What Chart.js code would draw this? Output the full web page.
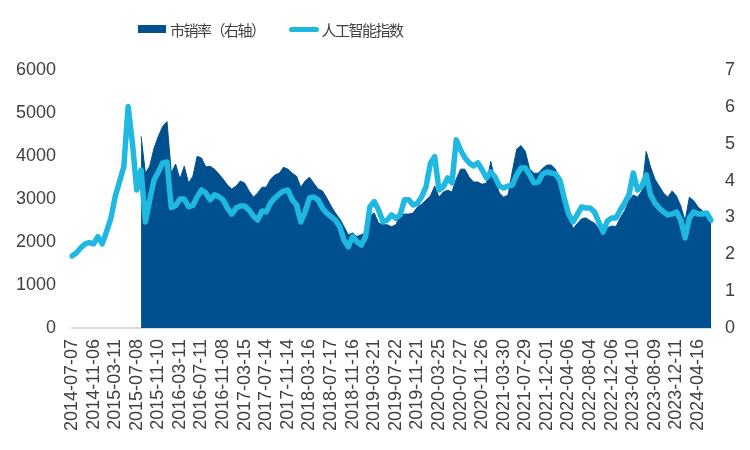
<!DOCTYPE html>
<html>
<head>
<meta charset="utf-8">
<script src="https://cdn.jsdelivr.net/npm/chart.js@4.4.1/dist/chart.umd.min.js"></script>
<style>
  html, body { margin: 0; padding: 0; background: #fff; }
  #wrap { position: relative; width: 750px; height: 450px; }
  #legend { position: absolute; left: 138px; top: 18px; height: 22px; display: flex; align-items: center;
            font-family: "Noto Sans CJK SC", sans-serif; font-size: 15px; letter-spacing: -1.5px; color: #404040; }
  #legend .sw-box { width: 28px; height: 8px; background: #00508F; margin-right: 4px; }
  #legend .sw-line { width: 30px; height: 5px; border-radius: 3px; background: #1FB8E0; margin-left: 24px; margin-right: 3px; }
</style>
</head>
<body>
<div id="wrap">
  <canvas id="chart" width="750" height="450"></canvas>
  <div id="legend">
    <span class="sw-box"></span><span id="lg0"></span>
    <span class="sw-line"></span><span id="lg1"></span>
  </div>
</div>
<script>
// x 轴刻度（每 5 个数据点一个标签）
const tickLabels = ['2014-07-07','2014-11-06','2015-03-11','2015-07-08','2015-11-10','2016-03-11','2016-07-11','2016-11-08',
  '2017-03-15','2017-07-14','2017-11-14','2018-03-16','2018-07-17','2018-11-16','2019-03-21','2019-07-22','2019-11-21',
  '2020-03-25','2020-07-27','2020-11-26','2021-03-30','2021-07-29','2021-12-01','2022-04-06','2022-08-04','2022-12-06',
  '2023-04-10','2023-08-09','2023-12-11','2024-04-16'];
const perTick = 5;

const seriesNames = ['市销率（右轴）', '人工智能指数'];

// 人工智能指数（左轴）
const aiIndex = [
  1675,1745,1860,1955,1985,1955,2125,1955,2240,2550,
  3055,3400,3750,5150,4295,3210,3675,2465,2980,3440,
  3630,3840,3860,2800,2850,3000,3000,2820,2850,3055,
  3210,3140,2980,3095,3055,2980,2790,2650,2790,2840,
  2840,2745,2605,2510,2720,2700,2910,3025,3115,3185,
  3210,2980,2860,2465,2700,3025,3045,2980,2790,2670,
  2590,2510,2355,2045,1890,2125,2005,1930,2125,2820,
  2940,2745,2475,2510,2630,2550,2630,2980,2980,2860,
  2900,3055,3285,3830,3985,3210,3285,3490,3375,4375,
  4140,3955,3840,3770,3840,3675,3490,3630,3510,3300,
  3255,3300,3325,3560,3720,3720,3560,3375,3395,3580,
  3630,3605,3580,3440,3025,2650,2465,2630,2815,2790,
  2790,2700,2465,2235,2490,2560,2560,2745,2910,3095,
  3605,3210,3300,3560,3095,2910,2790,2700,2630,2650,
  2700,2510,2095,2560,2700,2650,2650,2675,2510
];

// 市销率（右轴），2015-07 之前无数据
const psRatio = [
  null,null,null,null,null,null,null,null,null,null,
  null,null,null,null,null,null,5.2,4.2,4.39,4.88,
  5.2,5.47,5.6,4.2,4.45,4.04,4.39,3.93,4.12,4.66,
  4.61,4.37,4.39,4.31,4.18,4.04,3.88,3.77,3.85,3.99,
  3.93,3.72,3.55,3.66,3.82,3.82,4.04,4.15,4.2,4.36,
  4.31,4.2,4.12,3.82,3.99,4.09,3.93,3.77,3.72,3.53,
  3.31,3.12,2.96,2.75,2.53,2.58,2.48,2.53,2.58,3.04,
  3.12,2.85,2.8,2.8,2.75,2.8,3.07,3.09,3.09,3.12,
  3.28,3.36,3.47,3.58,3.85,3.55,3.69,3.74,3.69,4.04,
  4.31,4.31,4.09,3.96,3.96,3.9,3.93,4.52,3.99,3.66,
  3.55,3.61,4.26,4.85,4.95,4.79,4.31,4.2,4.2,4.33,
  4.42,4.42,4.31,3.93,3.58,3.18,2.69,2.83,2.96,2.99,
  2.91,2.85,2.69,2.48,2.72,2.77,2.75,2.99,3.18,3.45,
  3.61,3.55,3.72,4.79,4.37,4.04,3.85,3.66,3.55,3.72,
  3.58,3.31,2.91,3.55,3.45,3.28,3.18,3.09,3.01
];

const categories = aiIndex.map((_, i) => i % perTick === 0 ? (tickLabels[i / perTick] || '') : '');

const ink = '#404040';
const tickFont = { family: '"Liberation Sans", Arial, sans-serif', size: 18 };
const noGrid = { display: false, drawTicks: false };

document.getElementById('lg0').textContent = seriesNames[0];
document.getElementById('lg1').textContent = seriesNames[1];

new Chart(document.getElementById('chart'), {
  type: 'line',
  data: {
    labels: categories,
    datasets: [
      {
        label: seriesNames[0], data: psRatio, yAxisID: 'y1', order: 2,
        fill: 'origin', backgroundColor: '#00508F', borderColor: '#00508F', borderWidth: 1,
        pointRadius: 0, tension: 0,
      },
      {
        label: seriesNames[1], data: aiIndex, yAxisID: 'y', order: 1,
        fill: false, borderColor: '#1FB8E0', borderWidth: 5.5,
        borderJoinStyle: 'round', borderCapStyle: 'round',
        pointRadius: 0, tension: 0,
      },
    ],
  },
  options: {
    responsive: false, animation: false,
    layout: { padding: { top: 70, left: 0, right: 0, bottom: 0 } },
    plugins: { legend: { display: false }, tooltip: { enabled: false } },
    scales: {
      x: {
        grid: noGrid,
        border: { display: true, color: '#d9d9d9', width: 2 },
        ticks: { autoSkip: false, minRotation: 90, maxRotation: 90, padding: 11, color: ink, font: tickFont },
        afterFit: (s) => { s.height = 122; },
      },
      y: {
        position: 'left', min: 0, max: 6000,
        grid: noGrid, border: { display: false },
        ticks: { stepSize: 1000, padding: 16, color: ink, font: tickFont, callback: (v) => String(v) },
        afterFit: (s) => { s.width = 72; },
      },
      y1: {
        position: 'right', min: 0, max: 7,
        grid: noGrid, border: { display: false },
        ticks: { stepSize: 1, padding: 14, color: ink, font: tickFont },
        afterFit: (s) => { s.width = 39; },
      },
    },
  },
});
</script>
</body>
</html>
